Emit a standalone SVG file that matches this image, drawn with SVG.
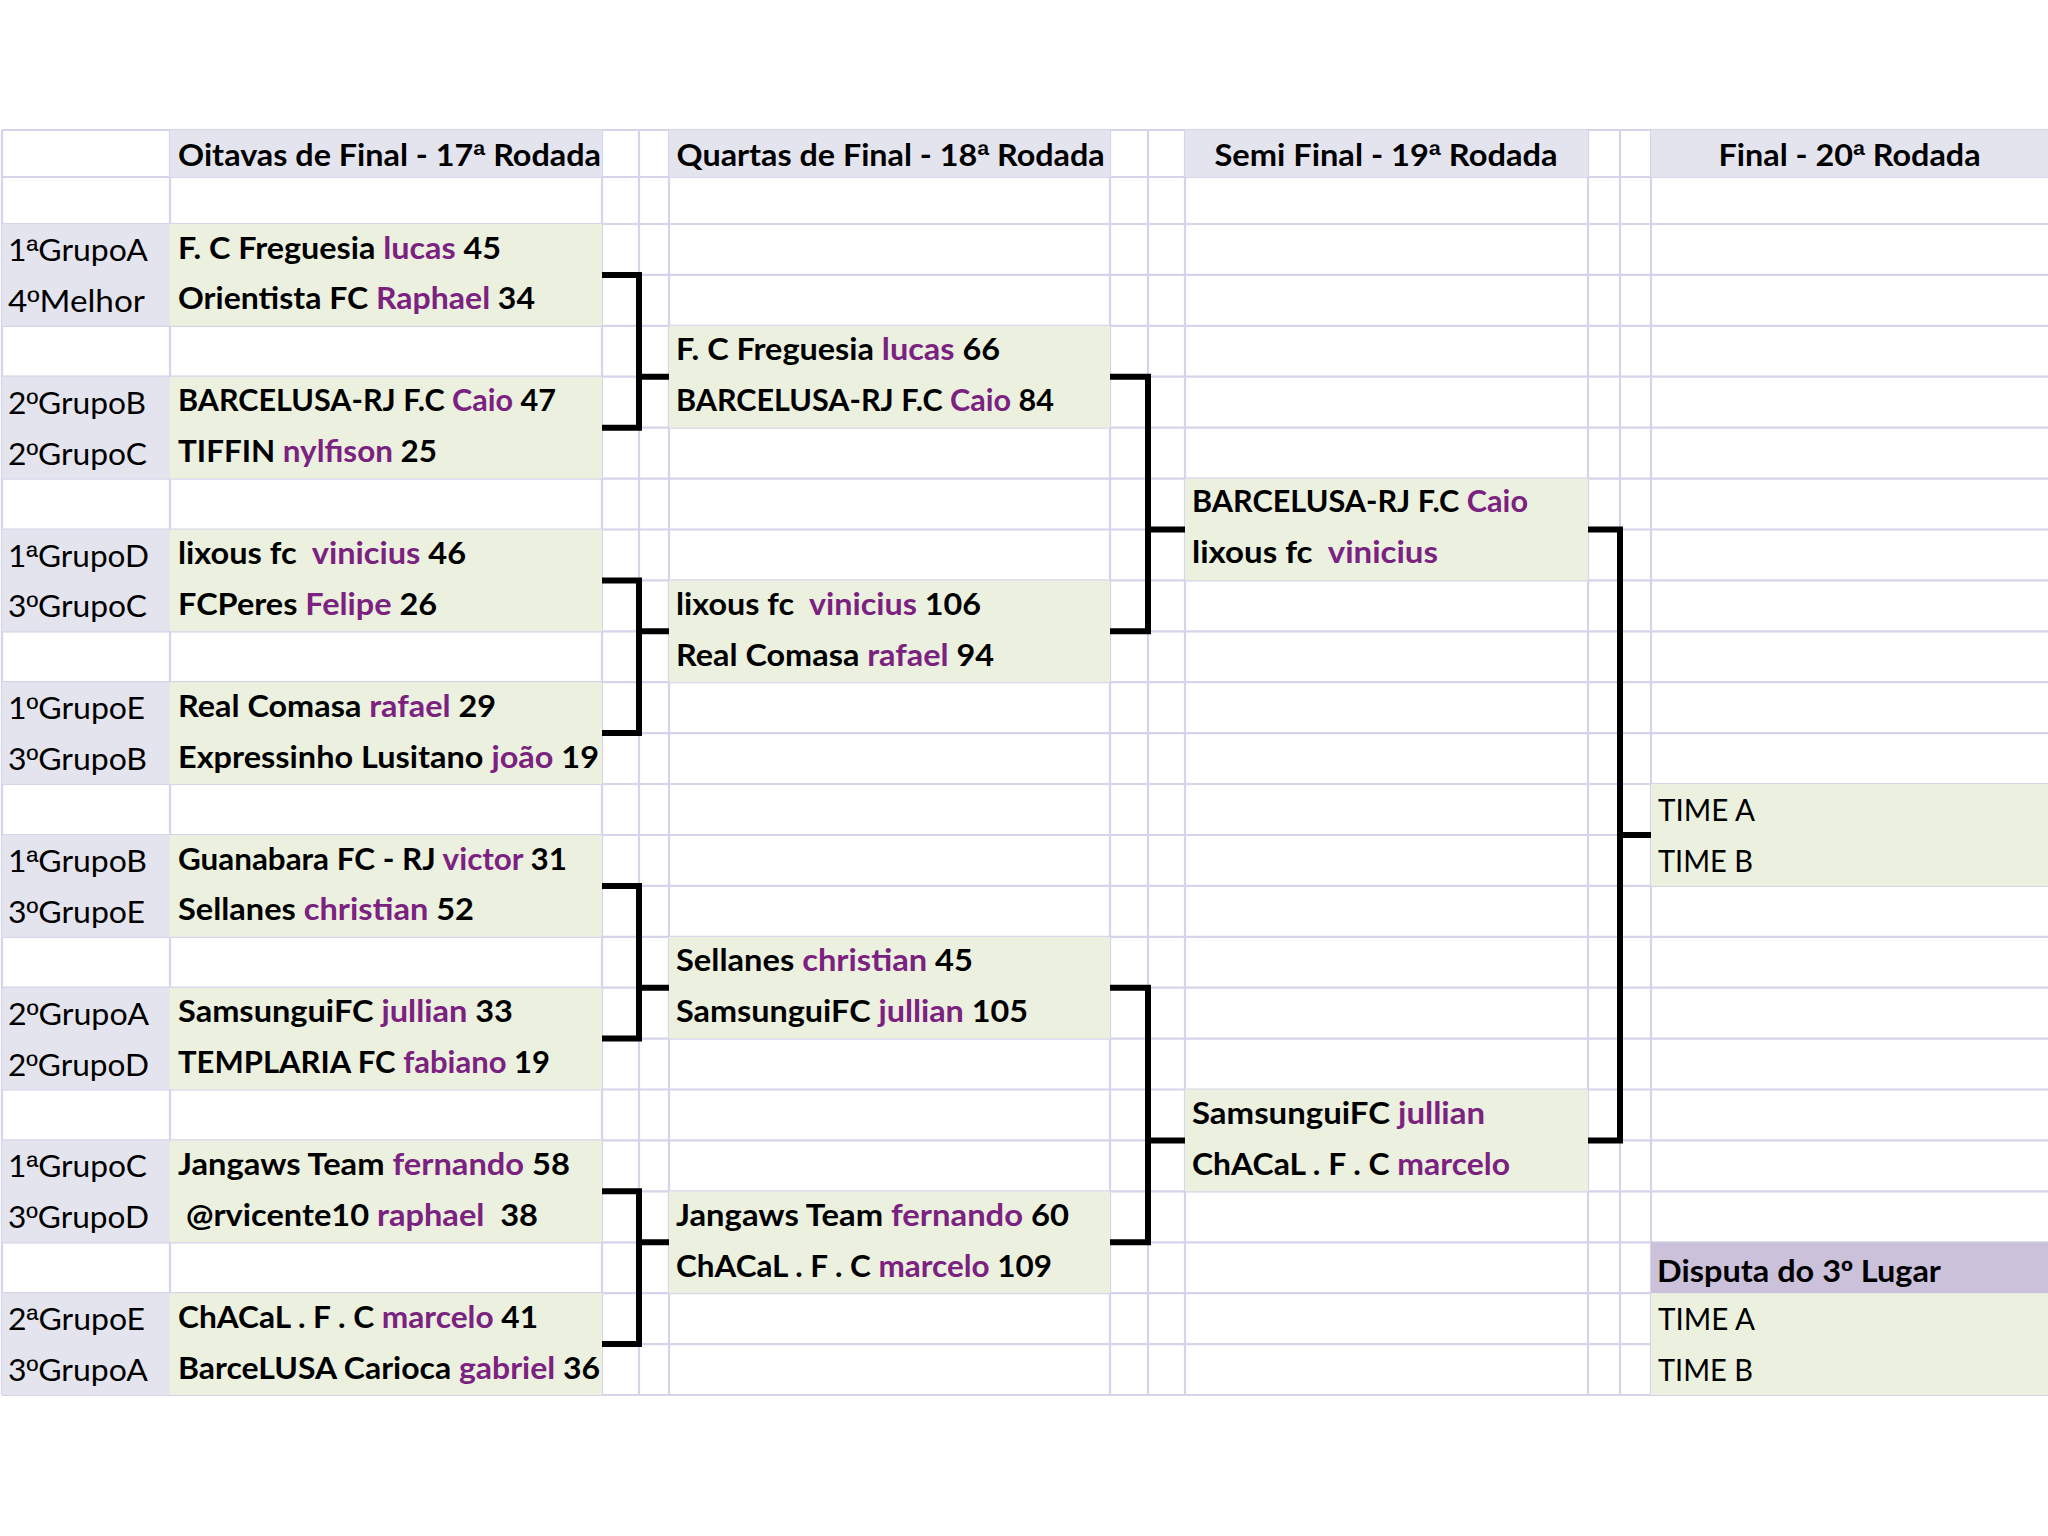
<svg xmlns="http://www.w3.org/2000/svg" width="2048" height="1536" viewBox="0 0 2048 1536">
<style>
.grid line{stroke:#D4D4EA;stroke-width:2.2}
.lav{fill:#E4E4EE}
.grn{fill:#EBF0DF}
.pur{fill:#CCC1DB}
text{font-family:Lato,"Open Sans","Liberation Sans",sans-serif;font-size:30px;fill:#000;white-space:pre}
.lab{font-weight:400}
.tm{font-weight:700}
.hd{font-weight:700;text-anchor:middle}
.p{fill:#7B2180}
.o{font-family:"Liberation Sans",Arial,sans-serif}
.br{fill:none;stroke:#000;stroke-width:6;stroke-linejoin:miter}
</style>
<rect x="0" y="0" width="2048" height="1536" fill="#FFFFFF"/>
<g class="grid">
<line x1="2" y1="130" x2="2048" y2="130"/>
<line x1="2" y1="177" x2="2048" y2="177"/>
<line x1="2" y1="224" x2="2048" y2="224"/>
<line x1="2" y1="274.9" x2="2048" y2="274.9"/>
<line x1="2" y1="325.8" x2="2048" y2="325.8"/>
<line x1="2" y1="376.7" x2="2048" y2="376.7"/>
<line x1="2" y1="427.7" x2="2048" y2="427.7"/>
<line x1="2" y1="478.6" x2="2048" y2="478.6"/>
<line x1="2" y1="529.5" x2="2048" y2="529.5"/>
<line x1="2" y1="580.4" x2="2048" y2="580.4"/>
<line x1="2" y1="631.3" x2="2048" y2="631.3"/>
<line x1="2" y1="682.2" x2="2048" y2="682.2"/>
<line x1="2" y1="733.1" x2="2048" y2="733.1"/>
<line x1="2" y1="784" x2="2048" y2="784"/>
<line x1="2" y1="835" x2="2048" y2="835"/>
<line x1="2" y1="885.9" x2="2048" y2="885.9"/>
<line x1="2" y1="936.8" x2="2048" y2="936.8"/>
<line x1="2" y1="987.7" x2="2048" y2="987.7"/>
<line x1="2" y1="1038.6" x2="2048" y2="1038.6"/>
<line x1="2" y1="1089.5" x2="2048" y2="1089.5"/>
<line x1="2" y1="1140.4" x2="2048" y2="1140.4"/>
<line x1="2" y1="1191.3" x2="2048" y2="1191.3"/>
<line x1="2" y1="1242.3" x2="2048" y2="1242.3"/>
<line x1="2" y1="1293.2" x2="2048" y2="1293.2"/>
<line x1="2" y1="1344.1" x2="2048" y2="1344.1"/>
<line x1="2" y1="1395" x2="2048" y2="1395"/>
<line x1="2" y1="130" x2="2" y2="1395"/>
<line x1="170" y1="130" x2="170" y2="1395"/>
<line x1="602" y1="130" x2="602" y2="1395"/>
<line x1="639" y1="130" x2="639" y2="1395"/>
<line x1="669" y1="130" x2="669" y2="1395"/>
<line x1="1110" y1="130" x2="1110" y2="1395"/>
<line x1="1148" y1="130" x2="1148" y2="1395"/>
<line x1="1185" y1="130" x2="1185" y2="1395"/>
<line x1="1588" y1="130" x2="1588" y2="1395"/>
<line x1="1620" y1="130" x2="1620" y2="1395"/>
<line x1="1651" y1="130" x2="1651" y2="1395"/>
</g>
<g id="headers">
<rect class="lav" x="170" y="130" width="432" height="47"/>
<rect class="lav" x="669" y="130" width="441" height="47"/>
<rect class="lav" x="1185" y="130" width="403" height="47"/>
<rect class="lav" x="1651" y="130" width="397" height="47"/>
<text class="hd" x="389.5" y="166" textLength="423" lengthAdjust="spacingAndGlyphs">Oitavas de Final - 17<tspan class="o">ª</tspan> Rodada</text>
<text class="hd" x="890.6" y="166" textLength="428" lengthAdjust="spacingAndGlyphs">Quartas de Final - 18<tspan class="o">ª</tspan> Rodada</text>
<text class="hd" x="1386" y="166" textLength="343" lengthAdjust="spacingAndGlyphs">Semi Final - 19<tspan class="o">ª</tspan> Rodada</text>
<text class="hd" x="1849.6" y="166" textLength="262" lengthAdjust="spacingAndGlyphs">Final - 20<tspan class="o">ª</tspan> Rodada</text>
</g>
<g id="oitavas-1">
<rect class="lav" x="2" y="224" width="168" height="101.8"/>
<rect class="grn" x="170" y="224" width="432" height="101.8"/>
<text class="lab" x="8" y="261" textLength="140" lengthAdjust="spacingAndGlyphs">1<tspan class="o">ª</tspan>GrupoA</text>
<text class="tm" x="178" y="258.5" textLength="323" lengthAdjust="spacingAndGlyphs">F. C Freguesia <tspan class="p">lucas</tspan> 45</text>
<text class="lab" x="8" y="311.9" textLength="137" lengthAdjust="spacingAndGlyphs">4<tspan class="o">º</tspan>Melhor</text>
<text class="tm" x="178" y="309.4" textLength="357" lengthAdjust="spacingAndGlyphs">Orientista FC <tspan class="p">Raphael</tspan> 34</text>
</g>
<g id="oitavas-2">
<rect class="lav" x="2" y="376.7" width="168" height="101.9"/>
<rect class="grn" x="170" y="376.7" width="432" height="101.9"/>
<text class="lab" x="8" y="413.7" textLength="138" lengthAdjust="spacingAndGlyphs">2<tspan class="o">º</tspan>GrupoB</text>
<text class="tm" x="178" y="411.2" textLength="378" lengthAdjust="spacingAndGlyphs">BARCELUSA-RJ F.C <tspan class="p">Caio</tspan> 47</text>
<text class="lab" x="8" y="464.7" textLength="139" lengthAdjust="spacingAndGlyphs">2<tspan class="o">º</tspan>GrupoC</text>
<text class="tm" x="178" y="462.2" textLength="259" lengthAdjust="spacingAndGlyphs">TIFFIN <tspan class="p">nylfison</tspan> 25</text>
</g>
<g id="oitavas-3">
<rect class="lav" x="2" y="529.5" width="168" height="101.8"/>
<rect class="grn" x="170" y="529.5" width="432" height="101.8"/>
<text class="lab" x="8" y="566.5" textLength="141" lengthAdjust="spacingAndGlyphs">1<tspan class="o">ª</tspan>GrupoD</text>
<text class="tm" x="178" y="564" textLength="288" lengthAdjust="spacingAndGlyphs">lixous fc  <tspan class="p">vinicius</tspan> 46</text>
<text class="lab" x="8" y="617.4" textLength="139" lengthAdjust="spacingAndGlyphs">3<tspan class="o">º</tspan>GrupoC</text>
<text class="tm" x="178" y="614.9" textLength="259" lengthAdjust="spacingAndGlyphs">FCPeres <tspan class="p">Felipe</tspan> 26</text>
</g>
<g id="oitavas-4">
<rect class="lav" x="2" y="682.2" width="168" height="101.8"/>
<rect class="grn" x="170" y="682.2" width="432" height="101.8"/>
<text class="lab" x="8" y="719.2" textLength="137" lengthAdjust="spacingAndGlyphs">1<tspan class="o">º</tspan>GrupoE</text>
<text class="tm" x="178" y="716.7" textLength="318" lengthAdjust="spacingAndGlyphs">Real Comasa <tspan class="p">rafael</tspan> 29</text>
<text class="lab" x="8" y="770.1" textLength="139" lengthAdjust="spacingAndGlyphs">3<tspan class="o">º</tspan>GrupoB</text>
<text class="tm" x="178" y="767.6" textLength="421" lengthAdjust="spacingAndGlyphs">Expressinho Lusitano <tspan class="p">joão</tspan> 19</text>
</g>
<g id="oitavas-5">
<rect class="lav" x="2" y="835" width="168" height="101.8"/>
<rect class="grn" x="170" y="835" width="432" height="101.8"/>
<text class="lab" x="8" y="872" textLength="139" lengthAdjust="spacingAndGlyphs">1<tspan class="o">ª</tspan>GrupoB</text>
<text class="tm" x="178" y="869.5" textLength="389" lengthAdjust="spacingAndGlyphs">Guanabara FC - RJ <tspan class="p">victor</tspan> 31</text>
<text class="lab" x="8" y="922.9" textLength="137" lengthAdjust="spacingAndGlyphs">3<tspan class="o">º</tspan>GrupoE</text>
<text class="tm" x="178" y="920.4" textLength="296" lengthAdjust="spacingAndGlyphs">Sellanes <tspan class="p">christian</tspan> 52</text>
</g>
<g id="oitavas-6">
<rect class="lav" x="2" y="987.7" width="168" height="101.8"/>
<rect class="grn" x="170" y="987.7" width="432" height="101.8"/>
<text class="lab" x="8" y="1024.7" textLength="141" lengthAdjust="spacingAndGlyphs">2<tspan class="o">º</tspan>GrupoA</text>
<text class="tm" x="178" y="1022.2" textLength="335" lengthAdjust="spacingAndGlyphs">SamsunguiFC <tspan class="p">jullian</tspan> 33</text>
<text class="lab" x="8" y="1075.6" textLength="141" lengthAdjust="spacingAndGlyphs">2<tspan class="o">º</tspan>GrupoD</text>
<text class="tm" x="178" y="1073.1" textLength="372" lengthAdjust="spacingAndGlyphs">TEMPLARIA FC <tspan class="p">fabiano</tspan> 19</text>
</g>
<g id="oitavas-7">
<rect class="lav" x="2" y="1140.4" width="168" height="101.9"/>
<rect class="grn" x="170" y="1140.4" width="432" height="101.9"/>
<text class="lab" x="8" y="1177.4" textLength="139" lengthAdjust="spacingAndGlyphs">1<tspan class="o">ª</tspan>GrupoC</text>
<text class="tm" x="178" y="1174.9" textLength="392" lengthAdjust="spacingAndGlyphs">Jangaws Team <tspan class="p">fernando</tspan> 58</text>
<text class="lab" x="8" y="1228.3" textLength="141" lengthAdjust="spacingAndGlyphs">3<tspan class="o">º</tspan>GrupoD</text>
<text class="tm" x="178" y="1225.8" textLength="360" lengthAdjust="spacingAndGlyphs"> @rvicente10 <tspan class="p">raphael</tspan>  38</text>
</g>
<g id="oitavas-8">
<rect class="lav" x="2" y="1293.2" width="168" height="101.8"/>
<rect class="grn" x="170" y="1293.2" width="432" height="101.8"/>
<text class="lab" x="8" y="1330.2" textLength="137" lengthAdjust="spacingAndGlyphs">2<tspan class="o">ª</tspan>GrupoE</text>
<text class="tm" x="178" y="1327.7" textLength="360" lengthAdjust="spacingAndGlyphs">ChACaL . F . C <tspan class="p">marcelo</tspan> 41</text>
<text class="lab" x="8" y="1381.1" textLength="140" lengthAdjust="spacingAndGlyphs">3<tspan class="o">º</tspan>GrupoA</text>
<text class="tm" x="178" y="1378.6" textLength="422" lengthAdjust="spacingAndGlyphs">BarceLUSA Carioca <tspan class="p">gabriel</tspan> 36</text>
</g>
<g id="quartas-1">
<rect class="grn" x="669" y="325.8" width="441" height="101.9"/>
<text class="tm" x="676" y="359.8" textLength="324" lengthAdjust="spacingAndGlyphs">F. C Freguesia <tspan class="p">lucas</tspan> 66</text>
<text class="tm" x="676" y="411.2" textLength="378" lengthAdjust="spacingAndGlyphs">BARCELUSA-RJ F.C <tspan class="p">Caio</tspan> 84</text>
</g>
<g id="quartas-2">
<rect class="grn" x="669" y="580.4" width="441" height="101.8"/>
<text class="tm" x="676" y="614.9" textLength="305" lengthAdjust="spacingAndGlyphs">lixous fc  <tspan class="p">vinicius</tspan> 106</text>
<text class="tm" x="676" y="665.8" textLength="318" lengthAdjust="spacingAndGlyphs">Real Comasa <tspan class="p">rafael</tspan> 94</text>
</g>
<g id="quartas-3">
<rect class="grn" x="669" y="936.8" width="441" height="101.8"/>
<text class="tm" x="676" y="971.3" textLength="297" lengthAdjust="spacingAndGlyphs">Sellanes <tspan class="p">christian</tspan> 45</text>
<text class="tm" x="676" y="1022.2" textLength="352" lengthAdjust="spacingAndGlyphs">SamsunguiFC <tspan class="p">jullian</tspan> 105</text>
</g>
<g id="quartas-4">
<rect class="grn" x="669" y="1191.3" width="441" height="101.9"/>
<text class="tm" x="676" y="1225.8" textLength="393" lengthAdjust="spacingAndGlyphs">Jangaws Team <tspan class="p">fernando</tspan> 60</text>
<text class="tm" x="676" y="1276.8" textLength="376" lengthAdjust="spacingAndGlyphs">ChACaL . F . C <tspan class="p">marcelo</tspan> 109</text>
</g>
<g id="semi-1">
<rect class="grn" x="1185" y="478.6" width="403" height="101.8"/>
<text class="tm" x="1192" y="512.1" textLength="336" lengthAdjust="spacingAndGlyphs">BARCELUSA-RJ F.C <tspan class="p">Caio</tspan></text>
<text class="tm" x="1192" y="563" textLength="246" lengthAdjust="spacingAndGlyphs">lixous fc  <tspan class="p">vinicius</tspan></text>
</g>
<g id="semi-2">
<rect class="grn" x="1185" y="1089.5" width="403" height="101.8"/>
<text class="tm" x="1192" y="1123.8" textLength="293" lengthAdjust="spacingAndGlyphs">SamsunguiFC <tspan class="p">jullian</tspan></text>
<text class="tm" x="1192" y="1174.9" textLength="318" lengthAdjust="spacingAndGlyphs">ChACaL . F . C <tspan class="p">marcelo</tspan></text>
</g>
<g id="final">
<rect class="grn" x="1651" y="784" width="397" height="101.9"/>
<text class="lab" x="1658" y="821" textLength="97" lengthAdjust="spacingAndGlyphs">TIME A</text>
<text class="lab" x="1658" y="872" textLength="95" lengthAdjust="spacingAndGlyphs">TIME B</text>
</g>
<g id="terceiro">
<rect class="pur" x="1651" y="1242.3" width="397" height="50.9"/>
<rect class="grn" x="1651" y="1293.2" width="397" height="101.8"/>
<text class="tm" x="1657" y="1281.5" textLength="284" lengthAdjust="spacingAndGlyphs">Disputa do 3<tspan class="o">º</tspan> Lugar</text>
<text class="lab" x="1658" y="1330.2" textLength="97" lengthAdjust="spacingAndGlyphs">TIME A</text>
<text class="lab" x="1658" y="1381.1" textLength="95" lengthAdjust="spacingAndGlyphs">TIME B</text>
</g>
<g id="connectors">
<path class="br" d="M602 274.9 H639 V427.7 H602 M639 376.7 H669"/>
<path class="br" d="M602 580.4 H639 V733.1 H602 M639 631.3 H669"/>
<path class="br" d="M602 885.9 H639 V1038.6 H602 M639 987.7 H669"/>
<path class="br" d="M602 1191.3 H639 V1344.1 H602 M639 1242.3 H669"/>
<path class="br" d="M1110 376.7 H1148 V631.3 H1110 M1148 529.5 H1185"/>
<path class="br" d="M1110 987.7 H1148 V1242.3 H1110 M1148 1140.4 H1185"/>
<path class="br" d="M1588 529.5 H1620 V1140.4 H1588 M1620 835 H1651"/>
</g>
</svg>
